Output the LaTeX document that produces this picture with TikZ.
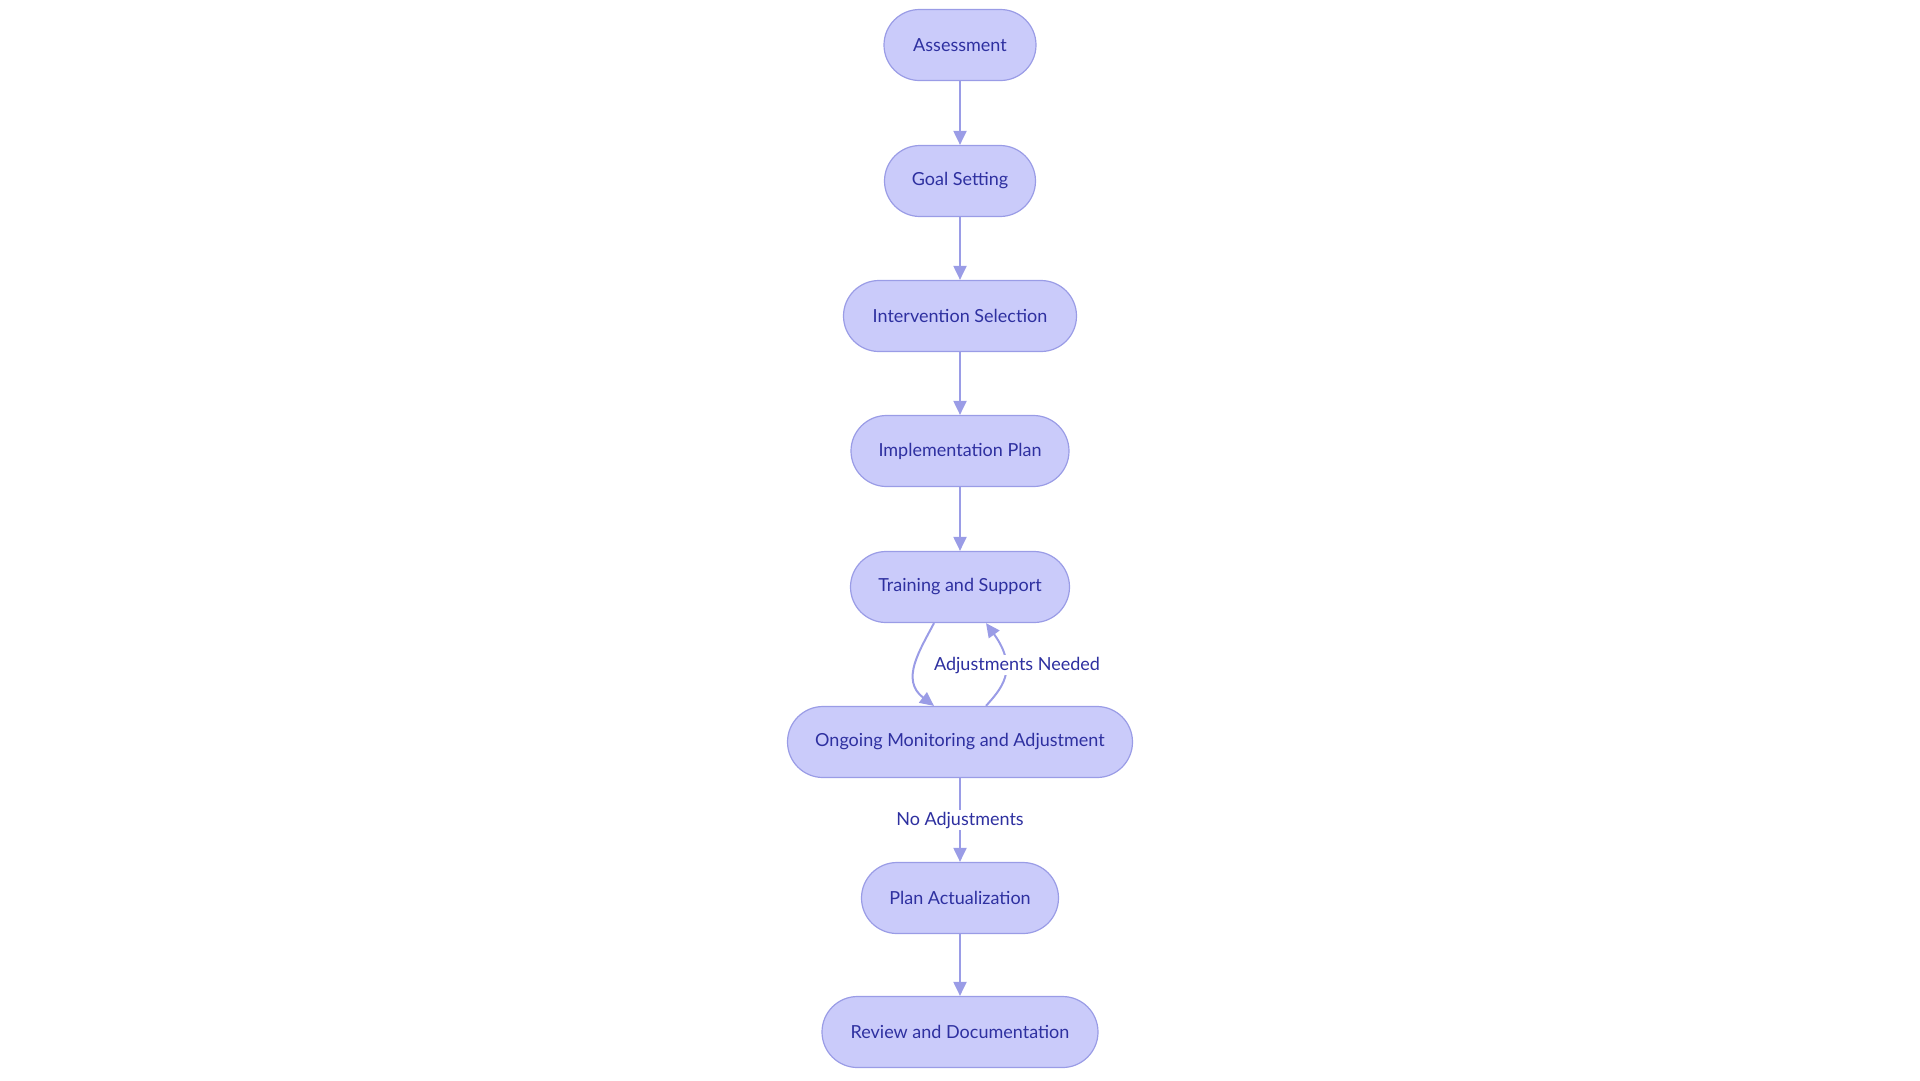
\documentclass[tikz,border=0pt]{standalone}
\usepackage{fontspec}
\setmainfont{Lato}
\usetikzlibrary{arrows.meta}
\definecolor{nfill}{HTML}{CACBFA}
\definecolor{nline}{HTML}{9A9CE6}
\definecolor{ntext}{HTML}{2E30A0}
\tikzset{
 stepbox/.style={draw=nline,fill=nfill,rounded corners=35.5pt,minimum height=71pt,text=ntext,font=\fontsize{18}{20}\selectfont,line width=1.2pt,inner sep=0pt},
 conn/.style={draw=nline,line width=2pt,-{Triangle[length=14pt,width=13pt]}},
 lab/.style={text=ntext,font=\fontsize{18}{20}\selectfont}
}
\begin{document}
\begin{tikzpicture}[x=1pt,y=-1pt]
\useasboundingbox (0,0) rectangle (1920,1080);
\node[stepbox,minimum width=152pt] (a) at (960,45) {Assessment};
\node[stepbox,minimum width=151pt] (b) at (960,181) {Goal Setting};
\node[stepbox,minimum width=233pt] (c) at (960,316) {Intervention Selection};
\node[stepbox,minimum width=218pt] (d) at (960,451) {Implementation Plan};
\node[stepbox,minimum width=219pt] (e) at (960,587) {Training and Support};
\node[stepbox,minimum width=345pt] (f) at (960,742) {Ongoing Monitoring and Adjustment};
\node[stepbox,minimum width=197pt] (g) at (960,898) {Plan Actualization};
\node[stepbox,minimum width=276pt] (h) at (960,1032) {Review and Documentation};
\draw[conn] (a) -- (b);
\draw[conn] (b) -- (c);
\draw[conn] (c) -- (d);
\draw[conn] (d) -- (e);
\draw[conn] ([xshift=-26pt]e.south) .. controls (920,650) and (900,680) .. ([xshift=-26pt]f.north);
\draw[conn] ([xshift=26pt]f.north) .. controls (1000,690) and (1020,670) .. ([xshift=26pt]e.south);
\node[lab,fill=white,inner sep=2pt] (l1) at (1017,665) {Adjustments Needed};
\draw[conn] (f) -- (g) node[lab,midway,fill=white,inner sep=2pt] (l2) {No Adjustments};
\draw[conn] (g) -- (h);
\end{tikzpicture}
\end{document}
